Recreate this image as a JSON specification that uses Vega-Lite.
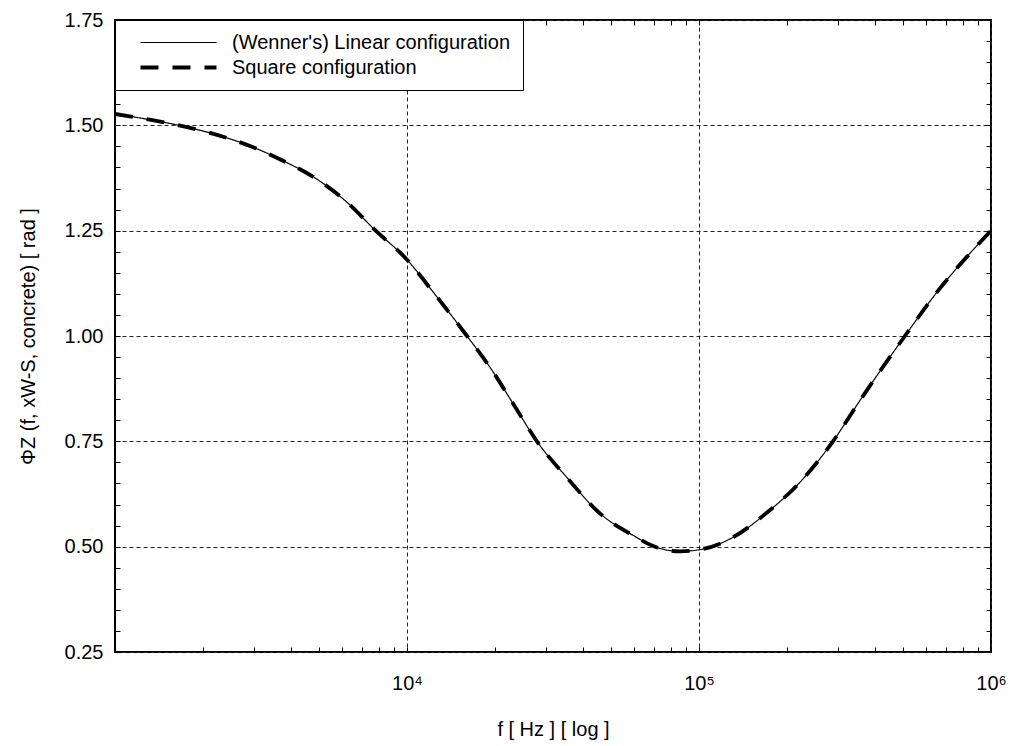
{
  "$schema": "https://vega.github.io/schema/vega-lite/v6.json",
  "width": 876,
  "height": 632,
  "autosize": {"type": "none"},
  "padding": {"left": 115, "top": 20, "right": 21, "bottom": 94},
  "background": "white",
  "config": {
    "view": {"stroke": "black", "strokeWidth": 2},
    "font": "Liberation Sans",
    "axis": {
      "labelFont": "Liberation Sans",
      "titleFont": "Liberation Sans",
      "labelFontSize": 20,
      "titleFontSize": 20,
      "titleFontWeight": "normal",
      "labelColor": "black",
      "titleColor": "black",
      "tickColor": "black",
      "tickWidth": 1,
      "domain": false,
      "gridColor": "#222222",
      "gridDash": [4, 3],
      "gridWidth": 1
    }
  },
  "datasets": {
    "curve": [
      {"f": 1000, "phi": 1.527, "series": "(Wenner's) Linear configuration"},
      {"f": 1300, "phi": 1.514, "series": "(Wenner's) Linear configuration"},
      {"f": 1630, "phi": 1.501, "series": "(Wenner's) Linear configuration"},
      {"f": 2115, "phi": 1.482, "series": "(Wenner's) Linear configuration"},
      {"f": 2900, "phi": 1.451, "series": "(Wenner's) Linear configuration"},
      {"f": 3760, "phi": 1.416, "series": "(Wenner's) Linear configuration"},
      {"f": 4920, "phi": 1.372, "series": "(Wenner's) Linear configuration"},
      {"f": 6380, "phi": 1.311, "series": "(Wenner's) Linear configuration"},
      {"f": 7650, "phi": 1.256, "series": "(Wenner's) Linear configuration"},
      {"f": 10000, "phi": 1.181, "series": "(Wenner's) Linear configuration"},
      {"f": 12270, "phi": 1.105, "series": "(Wenner's) Linear configuration"},
      {"f": 16050, "phi": 1.000, "series": "(Wenner's) Linear configuration"},
      {"f": 19230, "phi": 0.926, "series": "(Wenner's) Linear configuration"},
      {"f": 23070, "phi": 0.840, "series": "(Wenner's) Linear configuration"},
      {"f": 27860, "phi": 0.750, "series": "(Wenner's) Linear configuration"},
      {"f": 35400, "phi": 0.663, "series": "(Wenner's) Linear configuration"},
      {"f": 45780, "phi": 0.579, "series": "(Wenner's) Linear configuration"},
      {"f": 59380, "phi": 0.527, "series": "(Wenner's) Linear configuration"},
      {"f": 71810, "phi": 0.498, "series": "(Wenner's) Linear configuration"},
      {"f": 86100, "phi": 0.489, "series": "(Wenner's) Linear configuration"},
      {"f": 100700, "phi": 0.493, "series": "(Wenner's) Linear configuration"},
      {"f": 130600, "phi": 0.522, "series": "(Wenner's) Linear configuration"},
      {"f": 171000, "phi": 0.581, "series": "(Wenner's) Linear configuration"},
      {"f": 221800, "phi": 0.653, "series": "(Wenner's) Linear configuration"},
      {"f": 287600, "phi": 0.750, "series": "(Wenner's) Linear configuration"},
      {"f": 355800, "phi": 0.847, "series": "(Wenner's) Linear configuration"},
      {"f": 507000, "phi": 1.000, "series": "(Wenner's) Linear configuration"},
      {"f": 668300, "phi": 1.113, "series": "(Wenner's) Linear configuration"},
      {"f": 846600, "phi": 1.196, "series": "(Wenner's) Linear configuration"},
      {"f": 1000000, "phi": 1.250, "series": "(Wenner's) Linear configuration"},
      {"f": 1000, "phi": 1.527, "series": "Square configuration"},
      {"f": 1300, "phi": 1.514, "series": "Square configuration"},
      {"f": 1630, "phi": 1.501, "series": "Square configuration"},
      {"f": 2115, "phi": 1.482, "series": "Square configuration"},
      {"f": 2900, "phi": 1.451, "series": "Square configuration"},
      {"f": 3760, "phi": 1.416, "series": "Square configuration"},
      {"f": 4920, "phi": 1.372, "series": "Square configuration"},
      {"f": 6380, "phi": 1.311, "series": "Square configuration"},
      {"f": 7650, "phi": 1.256, "series": "Square configuration"},
      {"f": 10000, "phi": 1.181, "series": "Square configuration"},
      {"f": 12270, "phi": 1.105, "series": "Square configuration"},
      {"f": 16050, "phi": 1.000, "series": "Square configuration"},
      {"f": 19230, "phi": 0.926, "series": "Square configuration"},
      {"f": 23070, "phi": 0.840, "series": "Square configuration"},
      {"f": 27860, "phi": 0.750, "series": "Square configuration"},
      {"f": 35400, "phi": 0.663, "series": "Square configuration"},
      {"f": 45780, "phi": 0.579, "series": "Square configuration"},
      {"f": 59380, "phi": 0.527, "series": "Square configuration"},
      {"f": 71810, "phi": 0.498, "series": "Square configuration"},
      {"f": 86100, "phi": 0.489, "series": "Square configuration"},
      {"f": 100700, "phi": 0.493, "series": "Square configuration"},
      {"f": 130600, "phi": 0.522, "series": "Square configuration"},
      {"f": 171000, "phi": 0.581, "series": "Square configuration"},
      {"f": 221800, "phi": 0.653, "series": "Square configuration"},
      {"f": 287600, "phi": 0.750, "series": "Square configuration"},
      {"f": 355800, "phi": 0.847, "series": "Square configuration"},
      {"f": 507000, "phi": 1.000, "series": "Square configuration"},
      {"f": 668300, "phi": 1.113, "series": "Square configuration"},
      {"f": 846600, "phi": 1.196, "series": "Square configuration"},
      {"f": 1000000, "phi": 1.250, "series": "Square configuration"}
    ]
  },
  "layer": [
    {
      "data": {"name": "curve"},
      "mark": {"type": "line", "interpolate": "monotone", "color": "black", "clip": true},
      "encoding": {
        "x": {
          "field": "f",
          "type": "quantitative",
          "scale": {"type": "log", "domain": [1000, 1000000], "nice": false},
          "axis": {
            "orient": "bottom",
            "title": "f [ Hz ] [ log ]",
            "values": [2000, 3000, 4000, 5000, 6000, 7000, 8000, 9000, 10000, 20000, 30000, 40000, 50000, 60000, 70000, 80000, 90000, 100000, 200000, 300000, 400000, 500000, 600000, 700000, 800000, 900000, 1000000],
            "labelExpr": "datum.value == 10000 ? '10⁴' : datum.value == 100000 ? '10⁵' : datum.value == 1000000 ? '10⁶' : ''",
            "labelOverlap": false,
            "labelFlush": false,
            "labelPadding": 26,
            "tickSize": -5,
            "grid": true,
            "gridOpacity": {"condition": {"test": "indexof([10000, 100000, 1000000], datum.value) >= 0", "value": 1}, "value": 0},
            "titlePadding": 26
          }
        },
        "y": {
          "field": "phi",
          "type": "quantitative",
          "scale": {"domain": [0.25, 1.75], "nice": false, "zero": false},
          "axis": {
            "orient": "left",
            "title": "ΦZ (f, xW-S, concrete) [ rad ]",
            "values": [0.25, 0.3, 0.35, 0.4, 0.45, 0.5, 0.55, 0.6, 0.65, 0.7, 0.75, 0.8, 0.85, 0.9, 0.95, 1.0, 1.05, 1.1, 1.15, 1.2, 1.25, 1.3, 1.35, 1.4, 1.45, 1.5, 1.55, 1.6, 1.65, 1.7, 1.75],
            "labelExpr": "abs(datum.value * 4 - round(datum.value * 4)) < 0.001 ? format(datum.value, '.2f') : ''",
            "labelOverlap": false,
            "labelFlush": false,
            "labelPadding": 17,
            "tickSize": -5,
            "grid": true,
            "gridOpacity": {"condition": {"test": "abs(datum.value * 4 - round(datum.value * 4)) < 0.001", "value": 1}, "value": 0},
            "titlePadding": 26
          }
        },
        "strokeDash": {
          "field": "series",
          "type": "nominal",
          "scale": {"domain": ["(Wenner's) Linear configuration", "Square configuration"], "range": [[1, 0], [18, 14]]},
          "legend": {
            "title": null,
            "orient": "top-left",
            "offset": 0,
            "padding": 12,
            "strokeColor": "black",
            "fillColor": "white",
            "symbolType": "M-4,0H4",
            "symbolSize": 361,
            "symbolStrokeColor": "black",
            "symbolOffset": 40,
            "labelFont": "Liberation Sans",
            "labelFontSize": 20,
            "labelColor": "black",
            "labelOffset": 42,
            "labelLimit": 500,
            "rowPadding": 3,
            "encode": {"symbols": {"update": {"strokeWidth": {"signal": "datum.label == 'Square configuration' ? 3.8 : 1.2"}}}}
          }
        },
        "strokeWidth": {
          "field": "series",
          "type": "ordinal",
          "scale": {"domain": ["(Wenner's) Linear configuration", "Square configuration"], "range": [1.2, 3.8]},
          "legend": null
        }
      }
    },
    {
      "data": {"name": "curve"},
      "mark": {"type": "line", "opacity": 0},
      "encoding": {
        "x": {
          "field": "f",
          "type": "quantitative",
          "scale": {"type": "log", "domain": [1000, 1000000], "nice": false},
          "axis": {
            "orient": "top",
            "title": null,
            "labels": false,
            "grid": false,
            "tickSize": -5,
            "values": [2000, 3000, 4000, 5000, 6000, 7000, 8000, 9000, 10000, 20000, 30000, 40000, 50000, 60000, 70000, 80000, 90000, 100000, 200000, 300000, 400000, 500000, 600000, 700000, 800000, 900000]
          }
        },
        "y": {
          "field": "phi",
          "type": "quantitative",
          "scale": {"domain": [0.25, 1.75], "nice": false, "zero": false},
          "axis": {
            "orient": "right",
            "title": null,
            "labels": false,
            "grid": false,
            "tickSize": -5,
            "values": [0.3, 0.35, 0.4, 0.45, 0.5, 0.55, 0.6, 0.65, 0.7, 0.75, 0.8, 0.85, 0.9, 0.95, 1.0, 1.05, 1.1, 1.15, 1.2, 1.25, 1.3, 1.35, 1.4, 1.45, 1.5, 1.55, 1.6, 1.65, 1.7]
          }
        },
        "detail": {"field": "series", "type": "nominal"}
      }
    }
  ],
  "resolve": {"axis": {"x": "independent", "y": "independent"}}
}
